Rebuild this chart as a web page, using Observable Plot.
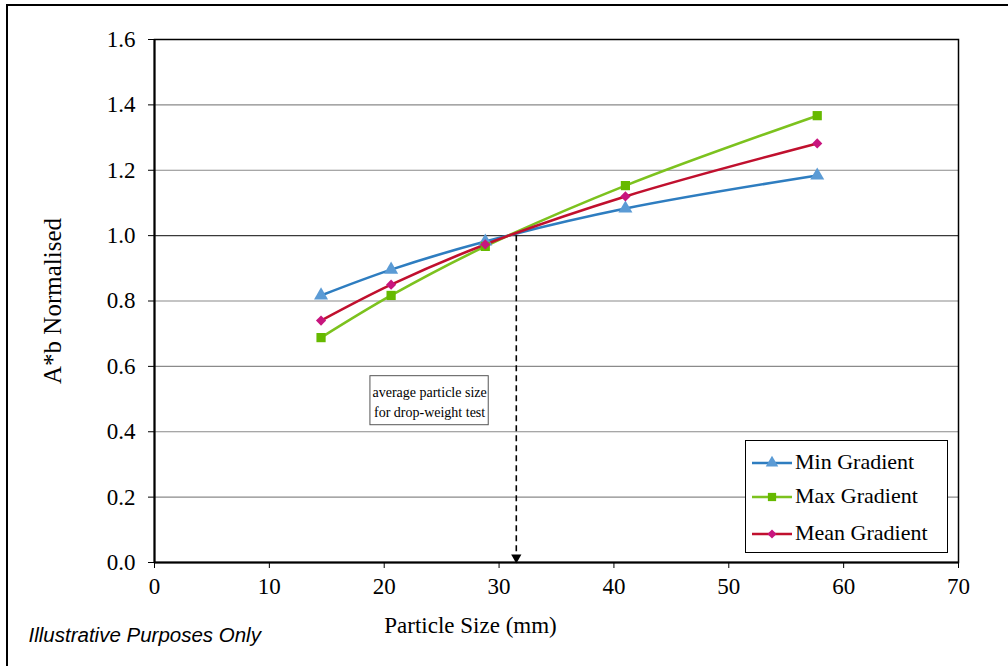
<!DOCTYPE html>
<html>
<head>
<meta charset="utf-8">
<script src="https://cdn.jsdelivr.net/npm/d3@7"></script>
<script src="https://cdn.jsdelivr.net/npm/@observablehq/plot@0.6"></script>
<style>
  html, body { margin: 0; padding: 0; background: #fff; }
  #wrap { position: relative; width: 1008px; height: 666px; overflow: hidden; }
  #border { position: absolute; left: 6px; top: 4px; right: -10px; bottom: -10px; border: 2px solid #000; pointer-events: none; }
  #legend { position: absolute; left: 745px; top: 440px; width: 201px; height: 111px; border: 1.5px solid #000; background: #fff; font-family: "Liberation Serif", "Times New Roman", serif; font-size: 22px; color: #000; }
  .row { position: absolute; left: 0; height: 24px; }
  .row svg { position: absolute; left: 6px; top: 0; }
  .row span { position: absolute; left: 49px; top: -1px; white-space: nowrap; line-height: 24px; }
</style>
</head>
<body>
<div id="wrap"><div id="border"></div></div>
<script>
// ---- data ----
const particleSize = [14.5, 20.6, 28.8, 41.0, 57.7];
const minGradient  = [0.817, 0.896, 0.982, 1.083, 1.184];
const maxGradient  = [0.688, 0.817, 0.967, 1.153, 1.367];
const meanGradient = [0.740, 0.850, 0.973, 1.120, 1.282];
const seriesNames  = ["Min Gradient", "Max Gradient", "Mean Gradient"];
const xTicks = [0, 10, 20, 30, 40, 50, 60, 70];
const yTicks = [0, 0.2, 0.4, 0.6, 0.8, 1.0, 1.2, 1.4, 1.6];
// annotation: average particle size for drop-weight test
const dropWeightSize = [31.5];
const dropWeightValue = [1.0];
const noteLines = ["average particle size", "for drop-weight test"];
const noteBoxX = [18.8, 29.1];
const noteBoxY = [0.42, 0.57];

// ---- styles ----
const lineColors = ["#2E7DC0", "#7CC21E", "#C0102E"];
const markColors = ["#5B9BD5", "#66B900", "#C8157E"];
const symbols = ["triangle", "square", "diamond2"];
const symbolR = [5.2, 5.2, 4.6];

const seriesVals = [minGradient, maxGradient, meanGradient];
const data = seriesNames.flatMap((s, i) =>
  particleSize.map((x, j) => ({series: s, idx: i, x, y: seriesVals[i][j]})));

const serif = "'Liberation Serif', 'Times New Roman', serif";
const gridVals = yTicks.filter(v => v > 0 && v < 1.6);

const marks = [
  Plot.ruleY(gridVals.filter(v => Math.abs(v - 1) > 1e-9), {stroke: "#8a8a8a", strokeWidth: 1.2}),
  Plot.ruleY(gridVals.filter(v => Math.abs(v - 1) < 1e-9), {stroke: "#3a3a3a", strokeWidth: 1.2}),
  Plot.frame({stroke: "#000", strokeWidth: 1.5}),
  Plot.ruleX([0], {stroke: "#000", strokeWidth: 2}),
  Plot.ruleY([0], {stroke: "#000", strokeWidth: 2}),
  Plot.axisY({ticks: yTicks, tickFormat: d => d.toFixed(1), tickSize: 6, tickPadding: 13, label: null, fontSize: 23, stroke: "#000", fill: "#000"}),
  Plot.axisX({ticks: xTicks, tickFormat: d => String(d), tickSize: 6, tickPadding: 9, label: null, fontSize: 23, stroke: "#000", fill: "#000"}),
  // annotation box
  Plot.rect([0], {x1: () => noteBoxX[0], x2: () => noteBoxX[1], y1: () => noteBoxY[0], y2: () => noteBoxY[1], fill: "#fff", stroke: "#555", strokeWidth: 1}),
  Plot.text([noteLines.join("\n")], {x: (noteBoxX[0] + noteBoxX[1]) / 2, y: (noteBoxY[0] + noteBoxY[1]) / 2, text: d => d, fontSize: 14, fill: "#000", lineHeight: 1.4}),
  // dashed arrow
  Plot.ruleX(dropWeightSize, {x: d => d, y1: () => dropWeightValue[0], y2: 0, stroke: "#000", strokeWidth: 1.6, strokeDasharray: "6,4"}),
  Plot.dot(dropWeightSize, {x: d => d, y: 0, symbol: "triangle", rotate: 180, r: 3.8, fill: "#000", dy: -5}),
];

seriesNames.forEach((s, i) => {
  const d = data.filter(r => r.idx === i);
  marks.push(Plot.line(d, {x: "x", y: "y", stroke: lineColors[i], strokeWidth: 2.6, curve: "catmull-rom"}));
});
seriesNames.forEach((s, i) => {
  const d = data.filter(r => r.idx === i);
  marks.push(Plot.dot(d, {x: "x", y: "y", symbol: symbols[i], r: symbolR[i], fill: markColors[i], stroke: "none"}));
});

// axis titles and footnote
marks.push(
  Plot.text(["A*b Normalised"], {frameAnchor: "left", text: d => d, rotate: -90, textAnchor: "middle", dx: -102, fontSize: 25, fill: "#000"}),
  Plot.text(["Particle Size (mm)"], {frameAnchor: "bottom", text: d => d, textAnchor: "middle", dx: -86, dy: 70, fontSize: 23, fill: "#000"}),
  Plot.text(["Illustrative Purposes Only"], {frameAnchor: "bottom-left", text: d => d, dx: -126, dy: 79, textAnchor: "start", fontSize: 20.5, fontStyle: "italic", fontFamily: "'Liberation Sans', Arial, sans-serif", fill: "#000"})
);

const chart = Plot.plot({
  width: 1008,
  height: 666,
  marginLeft: 154,
  marginRight: 50,
  marginTop: 39,
  marginBottom: 104,
  x: {domain: [0, 70], axis: null},
  y: {domain: [0, 1.6], axis: null},
  style: {fontFamily: serif, fontSize: "23px", color: "#000", background: "#fff", overflow: "visible"},
  marks
});
const wrap = document.getElementById("wrap");
wrap.insertBefore(chart, wrap.firstChild);

// legend (HTML overlay)
const legend = d3.select(wrap).append("div").attr("id", "legend");
const rowTops = [10, 44, 81];
seriesNames.forEach((s, i) => {
  const row = legend.append("div").attr("class", "row").style("top", rowTops[i] + "px").style("width", "200px");
  const svg = row.append("svg").attr("width", 42).attr("height", 24);
  svg.append("line").attr("x1", 0).attr("x2", 40).attr("y1", 12).attr("y2", 12)
    .attr("stroke", lineColors[i]).attr("stroke-width", 2.6);
  const sym = {triangle: d3.symbolTriangle, square: d3.symbolSquare, diamond2: d3.symbolDiamond2}[symbols[i]];
  svg.append("path").attr("d", d3.symbol(sym, Math.PI * symbolR[i] * symbolR[i] * 0.8)())
    .attr("transform", "translate(20,12)").attr("fill", markColors[i]);
  row.append("span").text(s);
});
</script>
</body>
</html>
